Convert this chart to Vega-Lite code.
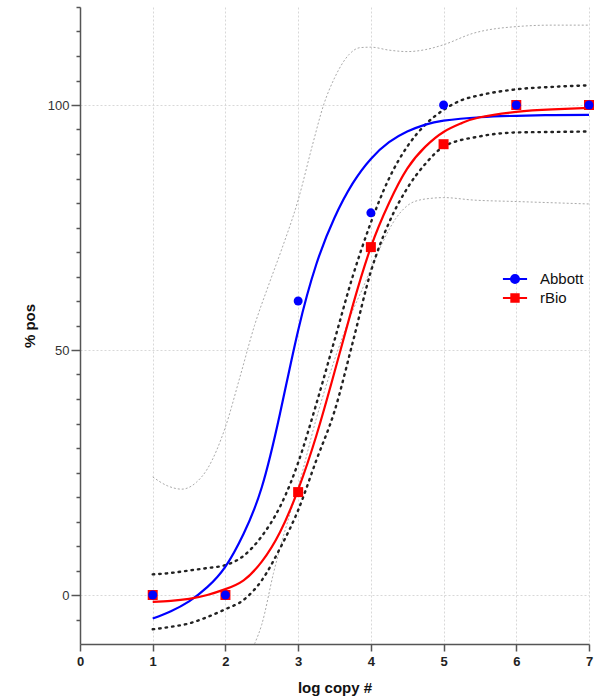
{
  "$schema": "https://vega.github.io/schema/vega-lite/v6.json",
  "width": 509,
  "height": 637,
  "autosize": {"type": "none"},
  "padding": {"left": 80, "top": 7, "right": 17, "bottom": 55},
  "config": {
    "view": {"stroke": null},
    "font": "Liberation Sans",
    "axis": {"domainColor": "#555", "domainWidth": 1.5, "tickColor": "#555", "tickWidth": 1.5, "labelFont": "Liberation Sans", "titleFont": "Liberation Sans", "gridColor": "#d8d8d8", "gridDash": [2, 2], "gridWidth": 1}
  },
  "datasets": {
    "fits": [
      {"series": "Abbott", "x": 1.0, "y": -4.8}, {"series": "Abbott", "x": 1.25, "y": -3.3}, {"series": "Abbott", "x": 1.5, "y": -1.3}, {"series": "Abbott", "x": 1.75, "y": 1.6}, {"series": "Abbott", "x": 2.0, "y": 5.8}, {"series": "Abbott", "x": 2.25, "y": 12.5}, {"series": "Abbott", "x": 2.5, "y": 22}, {"series": "Abbott", "x": 2.75, "y": 37}, {"series": "Abbott", "x": 3.0, "y": 54}, {"series": "Abbott", "x": 3.25, "y": 67.5}, {"series": "Abbott", "x": 3.5, "y": 77}, {"series": "Abbott", "x": 3.75, "y": 84}, {"series": "Abbott", "x": 4.0, "y": 89}, {"series": "Abbott", "x": 4.25, "y": 92.4}, {"series": "Abbott", "x": 4.5, "y": 94.6}, {"series": "Abbott", "x": 4.75, "y": 96}, {"series": "Abbott", "x": 5.0, "y": 96.8}, {"series": "Abbott", "x": 5.5, "y": 97.5}, {"series": "Abbott", "x": 6.0, "y": 97.8}, {"series": "Abbott", "x": 6.5, "y": 97.95}, {"series": "Abbott", "x": 7.0, "y": 98},
      {"series": "rBio", "x": 1.0, "y": -1.4}, {"series": "rBio", "x": 1.25, "y": -1.2}, {"series": "rBio", "x": 1.5, "y": -0.8}, {"series": "rBio", "x": 1.75, "y": 0.0}, {"series": "rBio", "x": 2.0, "y": 1.2}, {"series": "rBio", "x": 2.25, "y": 3.0}, {"series": "rBio", "x": 2.5, "y": 6.8}, {"series": "rBio", "x": 2.75, "y": 12.8}, {"series": "rBio", "x": 3.0, "y": 21.5}, {"series": "rBio", "x": 3.25, "y": 32.5}, {"series": "rBio", "x": 3.5, "y": 45.5}, {"series": "rBio", "x": 3.75, "y": 59}, {"series": "rBio", "x": 4.0, "y": 71}, {"series": "rBio", "x": 4.25, "y": 80}, {"series": "rBio", "x": 4.5, "y": 87}, {"series": "rBio", "x": 4.75, "y": 91.5}, {"series": "rBio", "x": 5.0, "y": 94.5}, {"series": "rBio", "x": 5.25, "y": 96.3}, {"series": "rBio", "x": 5.5, "y": 97.5}, {"series": "rBio", "x": 6.0, "y": 98.6}, {"series": "rBio", "x": 6.5, "y": 99.1}, {"series": "rBio", "x": 7.0, "y": 99.4}
    ],
    "ciAbbott": [
      {"bound": "upper", "x": 1.0, "y": 24.1}, {"bound": "upper", "x": 1.2, "y": 22.3}, {"bound": "upper", "x": 1.4, "y": 21.6}, {"bound": "upper", "x": 1.6, "y": 23}, {"bound": "upper", "x": 1.75, "y": 25.7}, {"bound": "upper", "x": 2.0, "y": 34.3}, {"bound": "upper", "x": 2.2, "y": 44.5}, {"bound": "upper", "x": 2.4, "y": 55}, {"bound": "upper", "x": 2.6, "y": 63.5}, {"bound": "upper", "x": 2.77, "y": 70.4}, {"bound": "upper", "x": 3.0, "y": 80.6}, {"bound": "upper", "x": 3.2, "y": 92}, {"bound": "upper", "x": 3.35, "y": 100}, {"bound": "upper", "x": 3.5, "y": 105.5}, {"bound": "upper", "x": 3.7, "y": 110.3}, {"bound": "upper", "x": 3.85, "y": 111.7}, {"bound": "upper", "x": 4.0, "y": 111.8}, {"bound": "upper", "x": 4.25, "y": 111.2}, {"bound": "upper", "x": 4.5, "y": 110.9}, {"bound": "upper", "x": 4.75, "y": 111.3}, {"bound": "upper", "x": 5.0, "y": 112.3}, {"bound": "upper", "x": 5.4, "y": 114.6}, {"bound": "upper", "x": 6.0, "y": 116}, {"bound": "upper", "x": 6.5, "y": 116.3}, {"bound": "upper", "x": 7.0, "y": 116.3},
      {"bound": "lower", "x": 2.4, "y": -10}, {"bound": "lower", "x": 2.5, "y": -6}, {"bound": "lower", "x": 2.66, "y": 4.4}, {"bound": "lower", "x": 2.89, "y": 16.7}, {"bound": "lower", "x": 3.0, "y": 22}, {"bound": "lower", "x": 3.25, "y": 36}, {"bound": "lower", "x": 3.5, "y": 48}, {"bound": "lower", "x": 3.75, "y": 58}, {"bound": "lower", "x": 3.9, "y": 63}, {"bound": "lower", "x": 4.1, "y": 70}, {"bound": "lower", "x": 4.36, "y": 77.2}, {"bound": "lower", "x": 4.6, "y": 80.3}, {"bound": "lower", "x": 4.86, "y": 81}, {"bound": "lower", "x": 5.0, "y": 81.1}, {"bound": "lower", "x": 5.41, "y": 80.6}, {"bound": "lower", "x": 6.0, "y": 80.3}, {"bound": "lower", "x": 7.0, "y": 79.8}
    ],
    "ciRBio": [
      {"bound": "upper", "x": 1.0, "y": 4.2}, {"bound": "upper", "x": 1.25, "y": 4.5}, {"bound": "upper", "x": 1.5, "y": 5}, {"bound": "upper", "x": 1.75, "y": 5.5}, {"bound": "upper", "x": 2.0, "y": 6.1}, {"bound": "upper", "x": 2.25, "y": 8}, {"bound": "upper", "x": 2.5, "y": 12}, {"bound": "upper", "x": 2.75, "y": 18}, {"bound": "upper", "x": 2.9, "y": 23}, {"bound": "upper", "x": 3.0, "y": 27}, {"bound": "upper", "x": 3.25, "y": 39}, {"bound": "upper", "x": 3.5, "y": 52}, {"bound": "upper", "x": 3.75, "y": 65}, {"bound": "upper", "x": 4.0, "y": 76}, {"bound": "upper", "x": 4.25, "y": 85}, {"bound": "upper", "x": 4.5, "y": 91.5}, {"bound": "upper", "x": 4.75, "y": 96}, {"bound": "upper", "x": 5.0, "y": 99}, {"bound": "upper", "x": 5.25, "y": 101}, {"bound": "upper", "x": 5.5, "y": 102}, {"bound": "upper", "x": 6.0, "y": 103.2}, {"bound": "upper", "x": 6.5, "y": 103.7}, {"bound": "upper", "x": 7.0, "y": 104},
      {"bound": "lower", "x": 1.0, "y": -7}, {"bound": "lower", "x": 1.25, "y": -6.5}, {"bound": "lower", "x": 1.5, "y": -5.8}, {"bound": "lower", "x": 1.75, "y": -4.5}, {"bound": "lower", "x": 2.0, "y": -2.9}, {"bound": "lower", "x": 2.25, "y": -1}, {"bound": "lower", "x": 2.5, "y": 3}, {"bound": "lower", "x": 2.75, "y": 9.5}, {"bound": "lower", "x": 3.0, "y": 17.3}, {"bound": "lower", "x": 3.25, "y": 27.5}, {"bound": "lower", "x": 3.5, "y": 37.5}, {"bound": "lower", "x": 3.75, "y": 51.5}, {"bound": "lower", "x": 4.0, "y": 66}, {"bound": "lower", "x": 4.25, "y": 76}, {"bound": "lower", "x": 4.5, "y": 83}, {"bound": "lower", "x": 4.75, "y": 88}, {"bound": "lower", "x": 5.0, "y": 91.5}, {"bound": "lower", "x": 5.5, "y": 93.6}, {"bound": "lower", "x": 6.0, "y": 94.4}, {"bound": "lower", "x": 6.5, "y": 94.5}, {"bound": "lower", "x": 7.0, "y": 94.6}
    ],
    "points": [
      {"series": "rBio", "x": 1, "y": 0}, {"series": "rBio", "x": 2, "y": 0}, {"series": "rBio", "x": 3, "y": 21}, {"series": "rBio", "x": 4, "y": 71}, {"series": "rBio", "x": 5, "y": 92}, {"series": "rBio", "x": 6, "y": 100}, {"series": "rBio", "x": 7, "y": 100},
      {"series": "Abbott", "x": 1, "y": 0}, {"series": "Abbott", "x": 2, "y": 0}, {"series": "Abbott", "x": 3, "y": 60}, {"series": "Abbott", "x": 4, "y": 78}, {"series": "Abbott", "x": 5, "y": 100}, {"series": "Abbott", "x": 6, "y": 100}, {"series": "Abbott", "x": 7, "y": 100}
    ]
  },
  "encoding": {
    "x": {"field": "x", "type": "quantitative", "scale": {"domain": [0, 7], "nice": false},
      "axis": {"title": "log copy #", "values": [0, 1, 2, 3, 4, 5, 6, 7], "grid": true, "tickSize": 7, "labelFlush": false, "labelFontSize": 13, "labelFontWeight": "bold", "labelColor": "#222", "labelPadding": 4, "titleFontSize": 15, "titleFontWeight": "bold", "titleColor": "#111", "titlePadding": 12}},
    "y": {"field": "y", "type": "quantitative", "scale": {"domain": [-10, 120], "nice": false},
      "axis": {"title": "% pos", "values": [-5, 0, 5, 10, 15, 20, 25, 30, 35, 40, 45, 50, 55, 60, 65, 70, 75, 80, 85, 90, 95, 100, 105, 110, 115, 120],
        "labelExpr": "datum.value % 50 === 0 ? datum.label : ''", "labelFlush": false,
        "grid": true, "gridOpacity": {"condition": {"test": "datum.value % 50 === 0", "value": 1}, "value": 0},
        "tickSize": {"condition": {"test": "datum.value % 50 === 0", "value": 9}, "value": 4},
        "labelFontSize": 13, "labelColor": "#333", "labelPadding": 2, "titleFontSize": 15, "titleFontWeight": "bold", "titleColor": "#111", "titlePadding": 10}}
  },
  "layer": [
    {
      "data": {"name": "ciAbbott"},
      "mark": {"type": "line", "interpolate": "monotone", "color": "#aaaaaa", "strokeWidth": 1, "strokeDash": [2, 2]},
      "encoding": {"detail": {"field": "bound"}}
    },
    {
      "data": {"name": "ciRBio"},
      "mark": {"type": "line", "interpolate": "monotone", "color": "#222222", "strokeWidth": 2.4, "strokeDash": [1.5, 5], "strokeCap": "round"},
      "encoding": {"detail": {"field": "bound"}}
    },
    {
      "data": {"name": "fits"},
      "mark": {"type": "line", "interpolate": "natural", "strokeWidth": 2.2},
      "encoding": {
        "color": {"field": "series", "type": "nominal", "scale": {"domain": ["Abbott", "rBio"], "range": ["#0000ff", "#ff0000"]},
          "legend": {"title": null, "orient": "none", "legendX": 427, "legendY": 264, "symbolSize": 180, "labelFontSize": 15, "labelFont": "Liberation Sans", "labelColor": "#111", "labelOffset": 17, "rowPadding": 2,
            "encode": {"symbols": {"update": {
              "shape": {"signal": "datum.value === 'Abbott' ? 'M-1.8,0H1.8M-0.6,0A0.6,0.6 0 1,0 0.6,0A0.6,0.6 0 1,0 -0.6,0Z' : 'M-1.8,0H1.8M-0.55,-0.55H0.55V0.55H-0.55Z'"},
              "fill": {"scale": "color", "field": "value"},
              "stroke": {"scale": "color", "field": "value"},
              "strokeWidth": {"value": 2},
              "opacity": {"value": 1}
            }}}}}
      }
    },
    {
      "data": {"name": "points"},
      "transform": [{"filter": "datum.series === 'rBio'"}],
      "mark": {"type": "point", "shape": "square", "filled": true, "size": 100, "opacity": 1},
      "encoding": {"color": {"field": "series", "type": "nominal"}}
    },
    {
      "data": {"name": "points"},
      "transform": [{"filter": "datum.series === 'Abbott'"}],
      "mark": {"type": "point", "shape": "circle", "filled": true, "size": 80, "opacity": 1},
      "encoding": {"color": {"field": "series", "type": "nominal"}}
    }
  ]
}
